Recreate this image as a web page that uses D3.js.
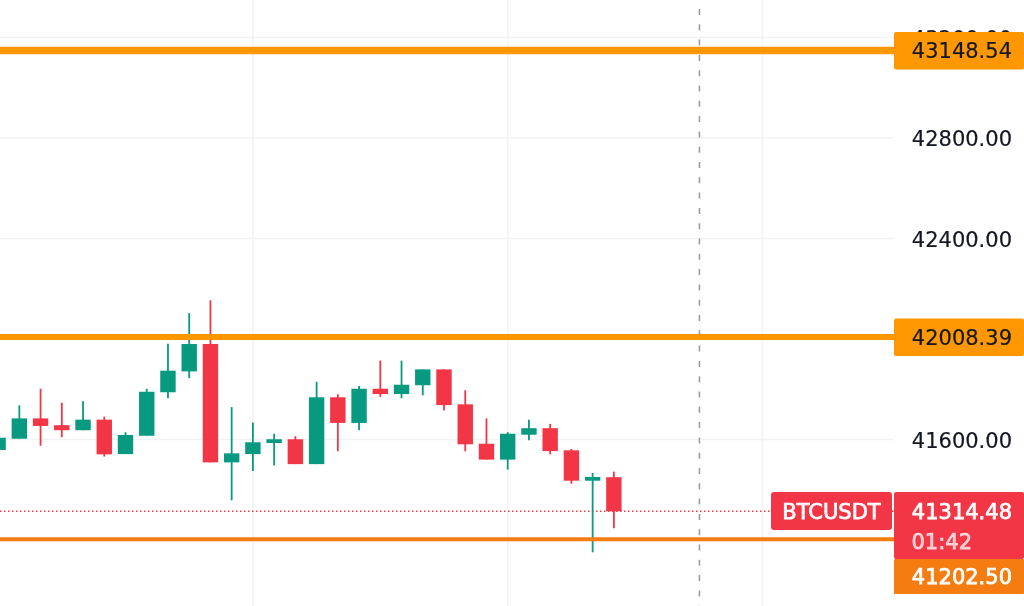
<!DOCTYPE html>
<html><head><meta charset="utf-8">
<style>html,body{margin:0;padding:0;background:#fff;overflow:hidden}svg{display:block;filter:blur(0.35px)}
text{font-family:"DejaVu Sans",sans-serif}</style>
<script src="https://cdn.jsdelivr.net/npm/d3@7"></script></head>
<body><svg id="c" width="1024" height="606"></svg>
<script>
const opens  = [41558,41603,41684,41657,41637,41679,41542,41615,41788,41871,41980,41509,41542,41586,41601,41502,41768,41666,41802,41781,41816,41879,41740,41583,41520,41619,41645,41557,41436,41450];
const closes = [41607,41684,41654,41637,41679,41541,41618,41790,41874,41980,41509,41545,41589,41601,41502,41768,41666,41802,41781,41818,41879,41737,41581,41520,41623,41645,41554,41436,41451,41314.48];
const highs  = [41607,41736,41802,41746,41752,41691,41629,41802,41981,42103,42154,41729,41668,41623,41613,41830,41780,41813,41914,41914,41879,41879,41796,41684,41629,41679,41662,41562,41467,41472];
const lows   = [41558,41603,41575,41609,41637,41532,41542,41615,41764,41844,41509,41358,41475,41497,41502,41502,41553,41637,41770,41764,41776,41715,41553,41520,41480,41597,41541,41424,41151,41247];
const gridTicks = [41600,42000,42400,42800,43200];
const axisTicks = [41600,42400,42800,43200];
const timeGrid = [12,24,36];
const cursorIndex = 33.03;
const levels = [43148.54,42008.39,41202.50];
const lastPrice = 41314.48;
const symbol = "BTCUSDT";
const countdown = "01:42";

const W=1024,H=606,axisX=894;
const svg=d3.select("#c");
const x=d3.scaleLinear().domain([12,24]).range([252.9,507.7]);
const y=d3.scaleLinear().domain([41600,42800]).range([439.5,138]);
const fmt=d3.format(".2f");
const RED="#f23645",GREEN="#089981",GRID="#f1f2f4";

const plot=svg.append("g");
plot.selectAll("line.h").data(gridTicks).join("line").attr("class","h")
 .attr("x1",0).attr("x2",axisX).attr("y1",d=>y(d)).attr("y2",d=>y(d)).attr("stroke",GRID).attr("stroke-width",1.5);
plot.selectAll("line.v").data(timeGrid).join("line").attr("class","v")
 .attr("x1",d=>x(d)).attr("x2",d=>x(d)).attr("y1",0).attr("y2",H).attr("stroke",GRID).attr("stroke-width",1.5);

const axis=d3.axisRight(y).tickValues(axisTicks).tickFormat(fmt).tickSize(0).tickPadding(0);
const ag=svg.append("g").attr("transform",`translate(${axisX},0)`).call(axis);
ag.select(".domain").remove();
ag.selectAll("text").attr("x",118).attr("text-anchor","end").attr("font-size",21).attr("fill","#131722").attr("stroke","#131722").attr("stroke-width",0.2).attr("dy","0.37em");

plot.append("line").attr("x1",x(cursorIndex)).attr("x2",x(cursorIndex)).attr("y1",0).attr("y2",H)
 .attr("stroke","#9598a1").attr("stroke-width",1.5).attr("stroke-dasharray","6 9.3").attr("stroke-dashoffset",-9);

plot.append("line").attr("x1",0).attr("x2",axisX).attr("y1",y(lastPrice)).attr("y2",y(lastPrice))
 .attr("stroke",RED).attr("stroke-width",1.3).attr("stroke-dasharray","1.5 2.5");

const idx=d3.range(opens.length);
const candles=plot.append("g").selectAll("g").data(idx).join("g");
const col=i=>closes[i]>=opens[i]?GREEN:RED;
candles.append("line").attr("x1",i=>x(i)).attr("x2",i=>x(i)).attr("y1",i=>y(highs[i])).attr("y2",i=>y(lows[i]))
 .attr("stroke",col).attr("stroke-width",1.8);
candles.append("rect").attr("x",i=>x(i)-7.7).attr("width",15.4)
 .attr("y",i=>y(Math.max(opens[i],closes[i]))).attr("height",i=>Math.abs(y(opens[i])-y(closes[i])))
 .attr("fill",col);

const levelColors=["#ff9800","#ff9800","#f57c10"];
const levelWidths=[7.5,6,4];
plot.append("g").selectAll("line").data(levels).join("line")
 .attr("x1",0).attr("x2",axisX).attr("y1",d=>y(d)).attr("y2",d=>y(d))
 .attr("stroke",(d,i)=>levelColors[i]).attr("stroke-width",(d,i)=>levelWidths[i]);

const lab=svg.append("g");
function box(x0,y0,w,h,fill,r){lab.append("rect").attr("x",x0).attr("y",y0).attr("width",w).attr("height",h).attr("fill",fill).attr("rx",r||0);}
function txt(s,xp,yp,fill,sw,op,anchor){lab.append("text").text(s).attr("x",xp).attr("y",yp).attr("text-anchor",anchor||"end").attr("dy","0.37em")
 .attr("font-size",21).attr("fill",fill).attr("fill-opacity",op||1)
 .attr("stroke",fill).attr("stroke-width",sw).attr("stroke-opacity",op||1);}
[0,1].forEach(k=>{const yy=y(levels[k]);box(894,yy-18.5,130,37.5,"#ff9800",2);txt(fmt(levels[k]),1012,yy,"#131722",0.2);});
box(771,492,121,38,RED,3);txt(symbol,831.5,511,"#fff",0.75,1,"middle");
box(894,492,130,67,RED,2);txt(fmt(lastPrice),1012,511,"#fff",0.75);txt(countdown,972,541,"#fff",0.75,0.7);
box(894,559,130,35,"#f57c10",1);txt(fmt(levels[2]),1012,576.5,"#fff",0.75);
</script></body></html>
